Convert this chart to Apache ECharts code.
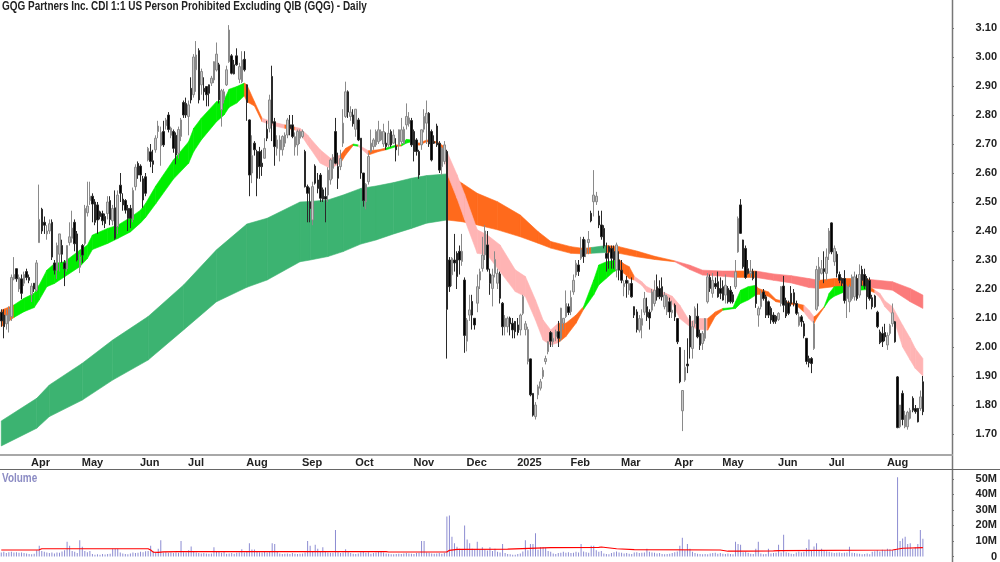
<!DOCTYPE html>
<html>
<head>
<meta charset="utf-8">
<style>html,body{margin:0;padding:0;background:#fff}#chart{width:1000px;height:562px}</style>
<script src="https://cdn.jsdelivr.net/npm/echarts@6/dist/echarts.min.js"></script>
</head>
<body>
<div id="chart"></div>
<script>
// each bar: [open, close, low, high, volume in millions]
var mar24 = [[2.12,2.09,2.07,2.13,2.5],[2.11,2.07,2.03,2.13,3],[2.08,2.11,2.06,2.13,2.2],[2.09,2.13,2.05,2.14,2.8],[2.105,2.24,2.09,2.25,3],[2.235,2.25,2.23,2.31,2.5],[2.27,2.235,2.225,2.27,2.8],[2.2,2.24,2.19,2.25,2.4],[2.235,2.185,2.165,2.25,2.6],[2.22,2.25,2.21,2.26,2.2],[2.26,2.24,2.23,2.27,2]];
var apr24 = [[2.24,2.23,2.22,2.25,1.6],[2.18,2.21,2.155,2.22,1.5],[2.22,2.2,2.19,2.22,1.8],[2.196,2.29,2.19,2.3,4],[2.36,2.44,2.36,2.56,7],[2.475,2.4,2.39,2.48,3.5],[2.43,2.42,2.39,2.45,3],[2.39,2.4,2.37,2.42,2.5],[2.4,2.425,2.39,2.44,2.2],[2.43,2.31,2.3,2.44,2.5],[2.29,2.265,2.25,2.3,2],[2.265,2.35,2.235,2.36,2.6],[2.32,2.39,2.26,2.39,2.4],[2.35,2.32,2.29,2.37,3.2],[2.29,2.27,2.21,2.3,4],[2.27,2.35,2.26,2.35,9.5],[2.36,2.38,2.35,2.43,7],[2.375,2.41,2.36,2.47,3.6],[2.43,2.356,2.33,2.44,3],[2.39,2.3,2.295,2.4,2.2]];
var may24 = [[2.275,2.31,2.255,2.32,10.5],[2.35,2.317,2.29,2.355,6.3],[2.357,2.478,2.35,2.49,3.5],[2.463,2.486,2.45,2.57,2.8],[2.505,2.52,2.49,2.57,3.5],[2.52,2.493,2.43,2.53,1.6],[2.5,2.43,2.42,2.51,1.2],[2.49,2.438,2.39,2.5,1.4],[2.466,2.45,2.44,2.47,1.2],[2.46,2.435,2.42,2.47,1.6],[2.45,2.426,2.41,2.46,1.3],[2.46,2.5,2.44,2.52,1.6],[2.505,2.44,2.42,2.52,1.8],[2.435,2.478,2.42,2.49,5],[2.48,2.375,2.37,2.54,5],[2.415,2.524,2.39,2.54,5],[2.558,2.53,2.5,2.6,2.5],[2.51,2.49,2.47,2.53,2],[2.505,2.472,2.46,2.51,1.6],[2.478,2.444,2.4,2.49,1.4],[2.478,2.444,2.41,2.49,1.9],[2.44,2.54,2.43,2.55,2.6],[2.553,2.62,2.54,2.63,2.2]];
var jun24 = [[2.633,2.593,2.58,2.64,2.4],[2.624,2.593,2.57,2.63,3],[2.58,2.507,2.48,2.59,2.7],[2.587,2.53,2.52,2.6,3.4],[2.645,2.685,2.64,2.69,3.6],[2.673,2.64,2.62,2.7,7],[2.642,2.63,2.6,2.68,3.6],[2.68,2.72,2.67,2.73,2.4],[2.743,2.762,2.72,2.78,5],[2.694,2.74,2.625,2.76,10.5],[2.743,2.697,2.69,2.78,2.6],[2.763,2.783,2.75,2.79,2.8],[2.8,2.75,2.74,2.81,2.4],[2.73,2.755,2.72,2.76,2.6],[2.743,2.685,2.67,2.75,2.3],[2.73,2.662,2.63,2.74,2.6],[2.668,2.75,2.65,2.76,2.4],[2.726,2.783,2.71,2.79,10],[2.843,2.8,2.79,2.85,2.8]];
var jul24 = [[2.84,2.8,2.79,2.86,2.6],[2.795,2.835,2.73,2.85,4],[2.892,2.852,2.84,2.93,6.5],[2.87,3,2.86,3.01,3.4],[2.956,3.007,2.88,3.055,2.6],[3.022,2.852,2.84,3.03,2.2],[2.904,2.95,2.87,2.96,2],[2.892,2.88,2.85,2.93,2.3],[2.898,2.87,2.83,2.9,2],[2.904,2.875,2.83,2.905,1.8],[2.91,2.927,2.9,2.935,2],[2.921,2.984,2.91,2.985,6],[2.955,3.01,2.95,3.05,3.4],[2.973,2.852,2.84,2.98,3],[2.818,2.884,2.76,2.89,2.4],[2.852,2.88,2.84,2.89,3.2],[2.904,2.956,2.9,2.97,1.8],[2.984,3.093,2.98,3.11,2],[3.004,2.944,2.94,3.01,2.2],[2.973,2.942,2.94,2.99,1.8],[3.004,2.973,2.97,3.03,2.4],[2.923,2.967,2.91,2.98,2.6],[2.915,2.99,2.91,3.02,4.6]];
var aug24 = [[2.992,2.956,2.95,3.02,2.6],[2.904,2.843,2.78,2.905,3],[2.783,2.593,2.52,2.785,8.5],[2.6,2.66,2.565,2.73,4.5],[2.703,2.68,2.66,2.71,4.5],[2.674,2.582,2.52,2.68,3.2],[2.674,2.622,2.58,2.69,2.8],[2.634,2.622,2.59,2.68,2.5],[2.651,2.685,2.65,2.72,3],[2.751,2.72,2.71,2.78,2.6],[2.754,2.852,2.74,2.87,3.2],[2.933,2.772,2.71,2.97,8.5],[2.777,2.691,2.625,2.79,8],[2.685,2.714,2.66,2.73,3.2],[2.68,2.714,2.64,2.73,2],[2.68,2.726,2.66,2.73,1.6],[2.703,2.731,2.69,2.74,1.8],[2.731,2.783,2.72,2.79,2],[2.766,2.754,2.73,2.8,1.6],[2.766,2.726,2.72,2.8,2.2],[2.69,2.725,2.66,2.74,1.8],[2.697,2.743,2.66,2.75,1.6]];
var sep24 = [[2.72,2.743,2.7,2.75,1.8],[2.726,2.743,2.72,2.75,2],[2.674,2.553,2.55,2.68,2.6],[2.553,2.53,2.43,2.56,10],[2.5,2.478,2.43,2.55,7],[2.438,2.553,2.42,2.57,3],[2.624,2.565,2.56,2.63,7.5],[2.576,2.547,2.53,2.6,5],[2.593,2.513,2.5,2.6,3],[2.542,2.51,2.5,2.55,6],[2.519,2.51,2.43,2.55,3.2],[2.524,2.61,2.5,2.62,2.6],[2.576,2.645,2.56,2.65,2.4],[2.616,2.654,2.58,2.665,2.4],[2.743,2.634,2.63,2.79,17],[2.622,2.582,2.545,2.67,2.8],[2.622,2.65,2.61,2.68,2.2],[2.703,2.772,2.69,2.82,2.6],[2.795,2.88,2.79,2.915,4.6],[2.88,2.81,2.79,2.885,2.8],[2.795,2.81,2.78,2.83,2.2]];
var oct24 = [[2.8,2.77,2.76,2.82,1.8],[2.751,2.82,2.725,2.82,1.6],[2.783,2.714,2.71,2.79,2],[2.72,2.6,2.58,2.72,2.8],[2.6,2.505,2.484,2.6,3.2],[2.501,2.561,2.475,2.565,2.4],[2.57,2.657,2.56,2.67,2.8],[2.674,2.703,2.67,2.75,1.8],[2.691,2.714,2.68,2.72,2.2],[2.697,2.743,2.69,2.75,2.6],[2.708,2.749,2.7,2.78,3.2],[2.714,2.743,2.71,2.75,3],[2.7,2.743,2.69,2.77,2.6],[2.703,2.691,2.68,2.74,2],[2.697,2.737,2.69,2.78,1.8],[2.743,2.697,2.69,2.75,1.4],[2.703,2.731,2.7,2.75,1.4],[2.693,2.68,2.64,2.72,1.6],[2.697,2.749,2.66,2.75,1.8],[2.708,2.749,2.7,2.79,1.6],[2.703,2.751,2.7,2.76,2],[2.766,2.795,2.75,2.84,2.2],[2.77,2.79,2.76,2.81,2]];
var nov24 = [[2.781,2.697,2.69,2.79,1.8],[2.743,2.674,2.64,2.75,1.6],[2.714,2.674,2.66,2.72,2.2],[2.674,2.593,2.58,2.68,2.4],[2.697,2.749,2.68,2.75,10],[2.751,2.795,2.74,2.82,10],[2.772,2.806,2.7,2.85,2.6],[2.806,2.7,2.69,2.81,2.4],[2.743,2.645,2.64,2.75,2],[2.708,2.703,2.7,2.73,1.8],[2.762,2.697,2.69,2.77,2],[2.703,2.61,2.6,2.71,2.2],[2.622,2.685,2.593,2.69,1.8],[2.64,2.697,2.63,2.71,2.4],[2.674,2.13,1.96,2.68,25.7],[2.3,2.208,2.19,2.31,26.4],[2.249,2.306,2.21,2.31,12.7],[2.3,2.29,2.26,2.39,8.5],[2.323,2.243,2.2,2.33,6.3],[2.33,2.3,2.25,2.35,5],[2.295,2.33,2.28,2.39,4.4]];
var dec24 = [[2.231,2.04,1.98,2.24,20],[2.02,2.093,1.985,2.1,11],[2.11,2.128,2.09,2.18,8.5],[2.157,2.11,2.06,2.18,5],[2.099,2.076,2.06,2.1,4.6],[2.151,2.208,2.12,2.25,9.5],[2.231,2.26,2.2,2.27,4.5],[2.271,2.317,2.26,2.38,6],[2.318,2.4,2.3,2.42,4.4],[2.352,2.268,2.26,2.4,3.8],[2.252,2.22,2.18,2.27,6],[2.202,2.248,2.14,2.27,3.6],[2.254,2.302,2.24,2.33,5],[2.22,2.254,2.2,2.27,3],[2.252,2.168,2.15,2.26,2.6],[2.151,2.07,2.04,2.155,8],[2.07,2.099,2.04,2.11,2.2],[2.07,2.099,2.05,2.105,1.6],[2.1,2.08,2.04,2.105,1.4],[2.082,2.059,2.03,2.1,1.2]];
var jan25 = [[2.088,2.053,2.03,2.09,1.2],[2.076,2.05,2.04,2.1,1.6],[2.059,2.11,2.04,2.115,2],[2.116,2.174,2.11,2.18,3.2],[2.06,2.08,2.04,2.09,10.5],[1.95,2.06,1.94,2.07,4],[1.959,1.835,1.83,1.96,8],[1.84,1.765,1.76,1.84,8],[1.76,1.8,1.75,1.81,15],[1.835,1.863,1.82,1.87,4.4],[1.858,1.88,1.85,1.89,6],[1.898,1.92,1.89,1.93,6],[1.95,1.96,1.94,1.97,5.6],[1.984,2.018,1.975,2.02,3.6],[2.05,2.02,2,2.055,3],[2.018,2.03,2,2.05,2],[2.036,2.053,2.02,2.06,1.6],[2.053,2.03,2,2.09,2.2],[2.03,2.134,2.02,2.135,2.4],[2.082,2.099,2.06,2.1,3],[2.105,2.15,2.1,2.195,2.4]];
var feb25 = [[2.139,2.119,2.11,2.15,2.8],[2.122,2.171,2.11,2.195,2.2],[2.19,2.23,2.18,2.25,2.4],[2.248,2.289,2.24,2.3,3],[2.283,2.26,2.245,2.3,2.6],[2.306,2.335,2.3,2.38,8],[2.371,2.312,2.29,2.38,3.2],[2.323,2.34,2.31,2.37,2.8],[2.36,2.371,2.32,2.4,2.4],[2.461,2.435,2.43,2.47,7],[2.501,2.524,2.45,2.61,7],[2.501,2.52,2.49,2.535,4],[2.452,2.421,2.41,2.47,3],[2.421,2.38,2.37,2.47,3.6],[2.409,2.348,2.34,2.42,2],[2.323,2.306,2.26,2.36,1.6],[2.346,2.329,2.27,2.35,1.4],[2.34,2.306,2.27,2.35,2.2],[2.329,2.3,2.27,2.35,2.8],[2.266,2.352,2.24,2.36,3.2]];
var mar25 = [[2.3,2.265,2.23,2.33,2.6],[2.265,2.23,2.22,2.3,2.4],[2.208,2.219,2.175,2.23,2],[2.23,2.22,2.17,2.245,2.2],[2.196,2.219,2.18,2.23,1.8],[2.219,2.173,2.17,2.24,1.6],[2.139,2.11,2.1,2.14,2.6],[2.121,2.06,2.05,2.13,2.8],[2.058,2.098,2.05,2.11,2.2],[2.075,2.098,2.03,2.13,2.4],[2.12,2.167,2.11,2.19,2.6],[2.139,2.104,2.09,2.17,5],[2.12,2.1,2.06,2.13,3],[2.127,2.19,2.12,2.2,2.6],[2.15,2.196,2.14,2.23,2.4],[2.208,2.173,2.16,2.25,2],[2.202,2.173,2.165,2.23,2.2],[2.208,2.173,2.16,2.24,1.6],[2.139,2.179,2.13,2.19,1.4],[2.121,2.173,2.11,2.18,1.6],[2.156,2.121,2.1,2.17,1.8]];
var apr25 = [[2.118,2.127,2.1,2.16,2.2],[2.144,2.104,2.09,2.15,2.8],[2.098,2.018,2.01,2.1,3.2],[1.998,1.88,1.875,2,7],[1.78,1.85,1.71,1.85,12],[1.886,1.93,1.88,1.99,4],[1.941,1.935,1.91,2.03,8],[2.106,2,1.96,2.11,5],[1.995,2.07,1.96,2.09,3],[2.081,2.133,2.07,2.14,2.2],[2.106,2.035,2.03,2.15,1.8],[2.047,2.006,1.99,2.06,1.6],[2.012,2.047,1.99,2.055,1.4],[2.03,2.098,2.02,2.1,1.6],[2.156,2.242,2.15,2.255,1.4],[2.24,2.202,2.19,2.25,2],[2.185,2.23,2.17,2.255,2.2],[2.219,2.208,2.2,2.24,2.4],[2.225,2.173,2.17,2.26,1.8]];
var may25 = [[2.202,2.185,2.165,2.24,2.2],[2.208,2.162,2.16,2.23,1.8],[2.179,2.213,2.15,2.25,1.6],[2.202,2.156,2.15,2.21,2],[2.196,2.156,2.15,2.21,1.6],[2.18,2.156,2.15,2.19,1.4],[2.208,2.259,2.2,2.3,9.5],[2.328,2.443,2.325,2.45,8],[2.49,2.392,2.39,2.51,7.5],[2.369,2.277,2.27,2.37,2.8],[2.34,2.24,2.235,2.35,3],[2.27,2.254,2.25,2.3,2.4],[2.254,2.26,2.24,2.3,1.8],[2.26,2.236,2.23,2.27,1.6],[2.26,2.15,2.135,2.26,5],[2.11,2.133,2.07,2.14,9.5],[2.139,2.185,2.13,2.195,2],[2.19,2.167,2.16,2.2,1.4],[2.173,2.11,2.1,2.18,1.6],[2.156,2.11,2.1,2.16,5],[2.133,2.093,2.08,2.14,2],[2.11,2.087,2.08,2.12,2.2]];
var jun25 = [[2.106,2.089,2.08,2.11,2.4],[2.095,2.116,2.09,2.12,7.5],[2.15,2.208,2.14,2.21,2.6],[2.21,2.144,2.12,2.245,14],[2.16,2.107,2.1,2.17,2.8],[2.152,2.116,2.11,2.16,2.4],[2.185,2.15,2.14,2.21,1.8],[2.187,2.15,2.14,2.2,1.6],[2.15,2.116,2.11,2.16,2.6],[2.075,2.104,2.07,2.12,3.2],[2.104,2.087,2.07,2.11,2.6],[2.08,2.038,2.03,2.09,3],[2.03,1.95,1.94,2.03,5.5],[1.96,1.945,1.93,1.97,11],[1.96,1.943,1.91,1.965,4],[1.995,2.08,1.99,2.09,6.5],[2.13,2.267,2.125,2.28,8.5],[2.23,2.276,2.14,2.31,4],[2.254,2.27,2.25,2.3,5],[2.27,2.26,2.22,2.33,3.6]];
var jul25 = [[2.254,2.31,2.23,2.34,3.4],[2.322,2.4,2.3,2.41,3],[2.428,2.328,2.32,2.43,2.6],[2.294,2.34,2.28,2.35,2.2],[2.32,2.254,2.24,2.33,2.4],[2.25,2.23,2.22,2.26,2.6],[2.236,2.22,2.21,2.24,2.2],[2.236,2.16,2.15,2.265,2.4],[2.167,2.208,2.1,2.215,2.6],[2.156,2.208,2.12,2.215,6.3],[2.167,2.242,2.16,2.25,2.4],[2.173,2.242,2.16,2.26,2.2],[2.236,2.167,2.16,2.25,2],[2.179,2.25,2.17,2.285,1.8],[2.267,2.23,2.21,2.28,1.4],[2.25,2.21,2.2,2.27,1.6],[2.236,2.173,2.13,2.245,2],[2.23,2.167,2.16,2.24,1.4],[2.17,2.139,2.13,2.18,3],[2.176,2.139,2.135,2.18,3.4],[2.12,2.07,2.065,2.125,4],[2.052,2.015,2.01,2.06,3.2],[2.047,2.018,2,2.07,4.4]];
var aug25 = [[2.05,2.035,2.02,2.08,4],[2.007,2.04,1.99,2.05,5],[2.047,2.075,2.04,2.08,4.6],[2.08,2.118,2.07,2.15,4],[2.087,2.018,2.015,2.09,4.8],[1.897,1.722,1.72,1.9,51],[1.725,1.8,1.72,1.8,10],[1.84,1.75,1.73,1.85,11.6],[1.725,1.765,1.72,1.78,12.7],[1.725,1.775,1.715,1.78,8],[1.754,1.782,1.75,1.79,8.5],[1.823,1.782,1.775,1.83,5],[1.788,1.777,1.77,1.8,6],[1.788,1.742,1.74,1.79,8],[1.788,1.828,1.78,1.85,17],[1.88,1.777,1.765,1.9,11.5]];

var monthLabels = ['','Apr','May','Jun','Jul','Aug','Sep','Oct','Nov','Dec','2025','Feb','Mar','Apr','May','Jun','Jul','Aug'];
var monthRows = [mar24,apr24,may24,jun24,jul24,aug24,sep24,oct24,nov24,dec24,jan25,feb25,mar25,apr25,may25,jun25,jul25,aug25];
var blankBars = 11;

// moving-average ribbons read at knots: [bar index, upper, lower, state of the stretch that follows]
var shortRibbon = [[0,2.127,2.07,'O'],[5,2.145,2.102,'G'],[9,2.168,2.122,'G'],[13,2.185,2.136,'G'],[15,2.214,2.162,'G'],[18,2.265,2.208,'G'],[21,2.288,2.219,'G'],[25,2.294,2.242,'G'],[31,2.334,2.277,'G'],[34,2.351,2.305,'G'],[36,2.386,2.336,'G'],[42,2.409,2.357,'G'],[46,2.42,2.374,'G'],[51,2.447,2.397,'G'],[55,2.472,2.428,'G'],[57,2.495,2.447,'G'],[61,2.555,2.494,'G'],[68,2.645,2.579,'G'],[74,2.708,2.634,'G'],[76,2.754,2.674,'G'],[79,2.789,2.714,'G'],[85,2.846,2.777,'G'],[88,2.852,2.8,'G'],[90,2.889,2.827,'G'],[93,2.898,2.841,'G'],[96,2.91,2.866,'O'],[97,2.904,2.846,'O'],[100,2.846,2.831,'O'],[103,2.789,2.777,'P'],[108,2.774,2.762,'P'],[112,2.766,2.754,'O'],[116,2.758,2.749,'P'],[118,2.754,2.737,'P'],[121,2.731,2.697,'P'],[122,2.72,2.685,'P'],[126,2.68,2.634,'P'],[130,2.651,2.616,'P'],[134,2.662,2.634,'O'],[136,2.685,2.662,'O'],[139,2.7,2.695,'G'],[141,2.697,2.692,'P'],[145,2.677,2.662,'O'],[149,2.68,2.674,'O'],[152,2.686,2.68,'G'],[156,2.697,2.691,'O'],[158,2.697,2.693,'G'],[160,2.716,2.703,'G'],[162,2.714,2.708,'O'],[165,2.703,2.696,'O'],[168,2.714,2.708,'O'],[172,2.708,2.703,'O'],[175,2.691,2.674,'P'],[176,2.674,2.6,'P'],[180,2.594,2.513,'P'],[183,2.527,2.44,'P'],[188,2.404,2.323,'P'],[192,2.386,2.317,'P'],[197,2.352,2.26,'P'],[203,2.266,2.191,'P'],[207,2.243,2.174,'P'],[211,2.162,2.093,'P'],[214,2.093,2.024,'P'],[217,2.059,2.007,'P'],[220,2.082,2.015,'O'],[223,2.082,2.036,'O'],[227,2.11,2.082,'O'],[230,2.14,2.13,'G'],[234,2.231,2.18,'G'],[236,2.283,2.214,'G'],[239,2.294,2.237,'G'],[242,2.298,2.26,'G'],[244,2.302,2.268,'O'],[246,2.286,2.254,'O'],[248,2.277,2.236,'O'],[250,2.244,2.231,'P'],[253,2.225,2.213,'P'],[255,2.208,2.19,'P'],[258,2.196,2.185,'P'],[262,2.187,2.175,'P'],[265,2.175,2.15,'P'],[268,2.144,2.098,'P'],[272,2.087,2.07,'P'],[276,2.098,2.06,'P'],[279,2.098,2.058,'O'],[282,2.121,2.106,'O'],[285,2.133,2.127,'G'],[289,2.136,2.132,'G'],[290,2.156,2.133,'G'],[292,2.196,2.15,'G'],[295,2.208,2.162,'G'],[298,2.213,2.179,'O'],[299,2.202,2.182,'O'],[303,2.19,2.175,'O'],[306,2.164,2.156,'O'],[310,2.156,2.15,'O'],[314,2.15,2.144,'O'],[317,2.144,2.121,'P'],[319,2.127,2.098,'P'],[321,2.104,2.081,'O'],[322,2.11,2.098,'O'],[325,2.139,2.136,'G'],[327,2.185,2.162,'G'],[329,2.208,2.175,'G'],[333,2.21,2.19,'O'],[335,2.196,2.185,'O'],[338,2.198,2.19,'G'],[339,2.21,2.196,'G'],[342,2.213,2.198,'O'],[345,2.196,2.187,'P'],[347,2.185,2.171,'P'],[349,2.159,2.139,'P'],[352,2.139,2.11,'P'],[356,2.075,2,'P'],[359,2.03,1.955,'P'],[361,1.995,1.926,'P'],[364,1.96,1.9,'P']];
var longRibbon = [[0,1.745,1.659,'S'],[14,1.823,1.72,'S'],[19,1.869,1.76,'S'],[32,1.944,1.817,'S'],[44,2.024,1.886,'S'],[58,2.105,1.955,'S'],[72,2.214,2.059,'S'],[85,2.335,2.156,'S'],[97,2.424,2.206,'S'],[105,2.444,2.231,'S'],[118,2.5,2.294,'S'],[122,2.502,2.3,'S'],[129,2.507,2.312,'S'],[135,2.524,2.329,'S'],[142,2.547,2.355,'S'],[148,2.555,2.369,'S'],[155,2.567,2.39,'S'],[162,2.582,2.409,'S'],[168,2.591,2.427,'S'],[176,2.597,2.438,'O'],[182,2.565,2.432,'O'],[188,2.53,2.421,'O'],[196,2.501,2.404,'O'],[205,2.455,2.38,'O'],[212,2.398,2.358,'O'],[217,2.364,2.341,'O'],[225,2.346,2.323,'O'],[230,2.34,2.321,'O'],[233,2.343,2.323,'S'],[239,2.35,2.326,'O'],[244,2.346,2.323,'O'],[251,2.331,2.311,'O'],[258,2.313,2.302,'O'],[266,2.297,2.294,'R'],[272,2.282,2.267,'R'],[277,2.265,2.248,'R'],[285,2.262,2.244,'R'],[290,2.262,2.24,'O'],[298,2.262,2.24,'R'],[305,2.252,2.23,'R'],[312,2.246,2.221,'R'],[319,2.236,2.205,'R'],[323,2.23,2.202,'O'],[329,2.236,2.208,'O'],[337,2.236,2.205,'O'],[343,2.233,2.205,'R'],[352,2.225,2.196,'R'],[359,2.202,2.156,'R'],[364,2.179,2.133,'R']];
var volumeAverage = [[0,4.2],[15,4.3],[16,5],[58,5],[59,4.2],[60,2.8],[62,2.7],[64,3],[70,3.1],[152,3.1],[153,2.9],[176,2.9],[177,4],[180,4.6],[200,4.8],[217,5.7],[236,5.9],[237,6.1],[243,5],[250,4.4],[284,4.2],[287,3.4],[294,3.4],[305,3.6],[307,3.8],[352,4.2],[356,5.3],[364,5.7]];

var priceTicks = [1.7,1.8,1.9,2,2.1,2.2,2.3,2.4,2.5,2.6,2.7,2.8,2.9,3,3.1];
var volumeTicks = [0,10,20,30,40,50];

var categories = [], candles = [], volumes = [];
monthRows.forEach(function(rows, m){
	rows.forEach(function(r, k){
		categories.push(k === 0 ? monthLabels[m] : '');
		candles.push([r[0], r[1], r[2], r[3]]);
		volumes.push(r[4]);
	});
});
for (var b = 0; b < blankBars; b++) categories.push('');

var ribbonColors = {G:'#00ee00', O:'#ff6a1c', P:'#ffb4b4', S:'#3cb371', R:'#fb7b7b'};
function ribbonItem(knots){
	return function(params, api){
		var p = knots[params.dataIndex], q = knots[params.dataIndex + 1];
		if (!q) return null;
		var c = ribbonColors[p[3]];
		return {
			type: 'polygon',
			shape: {points: [
				api.coord([p[0], p[1]]), api.coord([q[0], q[1]]),
				api.coord([q[0], q[2]]), api.coord([p[0], p[2]])
			]},
			style: {fill: c, stroke: c, lineWidth: 0.6}
		};
	};
}
var monthTick = function(index){ return categories[index] !== ''; };
var font = '"Liberation Sans", Arial, sans-serif';

var myChart = echarts.init(document.getElementById('chart'), null, {renderer:'canvas'});
myChart.setOption({
	animation: false,
	backgroundColor: '#fff',
	grid: [
		{left:0, width:952, top:0, height:455},
		{left:0, width:952, top:470, height:92}
	],
	xAxis: [
		{type:'category', gridIndex:0, data:categories, boundaryGap:true,
			axisLine:{lineStyle:{color:'#a8a8a8', width:2}},
			axisTick:{alignWithLabel:true, interval:monthTick, length:2, lineStyle:{color:'#777'}},
			axisLabel:{interval:monthTick, align:'left', margin:2, padding:[0,0,0,2], hideOverlap:false,
				fontFamily:font, fontSize:11, fontWeight:'bold', color:'#222'}},
		{type:'category', gridIndex:1, data:categories, boundaryGap:true, show:false}
	],
	yAxis: [
		{type:'value', gridIndex:0, position:'right', min:1.6276, max:3.1966, splitLine:{show:false},
			axisLine:{show:false},
			axisTick:{show:true, length:2, customValues:priceTicks, lineStyle:{color:'#777'}},
			axisLabel:{customValues:priceTicks, align:'right', margin:45, fontFamily:font, fontSize:11, fontWeight:'bold', color:'#222',
				formatter:function(v){ return v.toFixed(2); }}},
		{type:'value', gridIndex:1, position:'right', min:-2.53, max:55.7, splitLine:{show:false},
			axisLine:{show:false},
			axisTick:{show:true, length:2, customValues:volumeTicks, lineStyle:{color:'#777'}},
			axisLabel:{customValues:volumeTicks, align:'right', margin:45, fontFamily:font, fontSize:11, fontWeight:'bold', color:'#222',
				formatter:function(v){ return v === 0 ? '0' : v + 'M'; }}}
	],
	series: [
		{type:'custom', name:'long', xAxisIndex:0, yAxisIndex:0, data:longRibbon, renderItem:ribbonItem(longRibbon), z:2, silent:true},
		{type:'custom', name:'short', xAxisIndex:0, yAxisIndex:0, data:shortRibbon, renderItem:ribbonItem(shortRibbon), z:3, silent:true},
		{type:'candlestick', xAxisIndex:0, yAxisIndex:0, data:candles, barWidth:2, z:5, silent:true,
			itemStyle:{color:'#c8c8c8', color0:'#000', borderColor:'#8a8a8a', borderColor0:'#2a2a2a', borderWidth:1}},
		{type:'bar', xAxisIndex:1, yAxisIndex:1, data:volumes, barWidth:1, silent:true, itemStyle:{color:'#8c8cd2'}},
		{type:'line', xAxisIndex:1, yAxisIndex:1, data:volumeAverage, showSymbol:false, silent:true, z:4,
			lineStyle:{color:'#f00', width:1.2}}
	],
	graphic: [
		{type:'line', silent:true, shape:{x1:952.5,y1:0,x2:952.5,y2:562}, style:{stroke:'#777', lineWidth:1.5}},
		{type:'line', silent:true, shape:{x1:0,y1:469.5,x2:1000,y2:469.5}, style:{stroke:'#666', lineWidth:1}},
		{type:'text', silent:true, x:2, y:1, scaleX:0.83, style:{text:'GQG Partners Inc. CDI 1:1 US Person Prohibited Excluding QIB (GQG) - Daily',
			fontFamily:font, fontSize:12, fontWeight:'bold', fill:'#222'}},
		{type:'text', silent:true, x:2, y:473, scaleX:0.83, style:{text:'Volume', fontFamily:font, fontSize:12, fontWeight:'bold', fill:'#8c8cc4'}}
	]
});
</script>
</body>
</html>
